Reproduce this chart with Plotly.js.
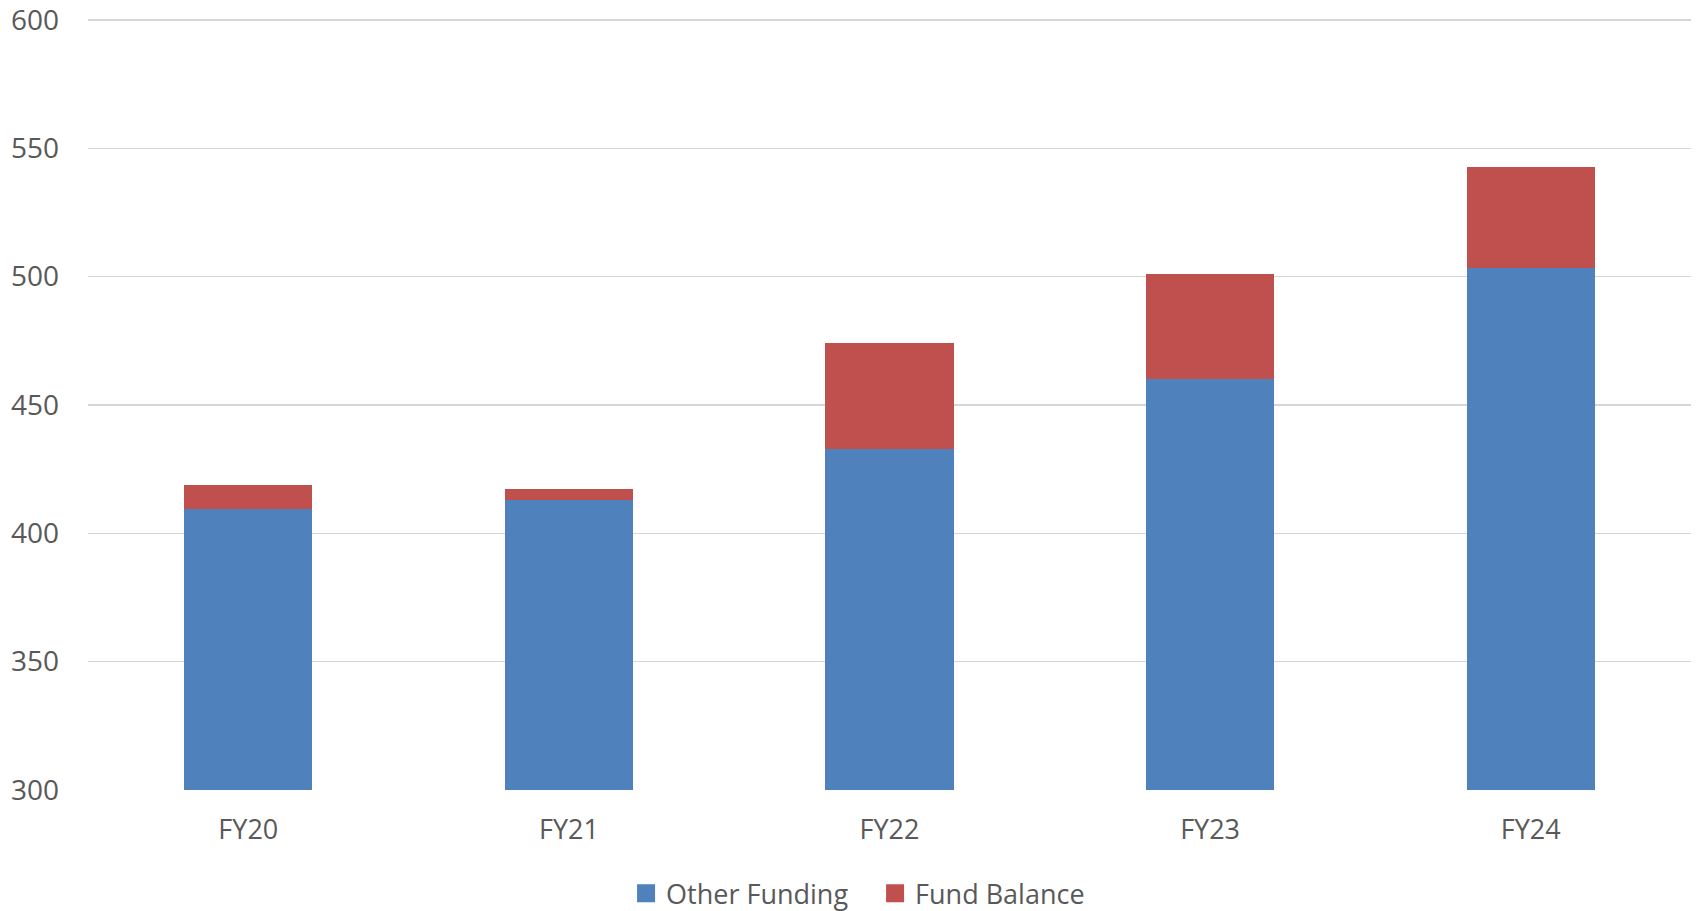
<!DOCTYPE html>
<html>
<head>
<meta charset="utf-8">
<script src="https://cdn.plot.ly/plotly-3.0.1.min.js"></script>
<style>
html,body{margin:0;padding:0;background:#fff;}
#chart{width:1700px;height:911px;}
</style>
</head>
<body>
<div id="chart"></div>
<script>
const categories = ["FY20", "FY21", "FY22", "FY23", "FY24"];
const otherFunding = [409.6, 413.1, 432.8, 460.0, 503.5];
const fundBalance = [9.2, 4.0, 41.5, 41.2, 39.3];
const yTicks = [300, 350, 400, 450, 500, 550, 600];

const textColor = "#595959";
const fontFamily = "'Open Sans', 'Noto Sans', sans-serif";

const traces = [
  {
    type: "bar",
    name: "Other Funding",
    x: categories,
    y: otherFunding,
    marker: {color: "#4F81BD", line: {width: 0}},
    hoverinfo: "x+y+name"
  },
  {
    type: "bar",
    name: "Fund Balance",
    x: categories,
    y: fundBalance,
    marker: {color: "#C0504D", line: {width: 0}},
    hoverinfo: "x+y+name"
  }
];

const layout = {
  width: 1700,
  height: 911,
  barmode: "stack",
  bargap: 0.6,
  paper_bgcolor: "#ffffff",
  plot_bgcolor: "#ffffff",
  margin: {l: 88, r: 9, t: 19, b: 121, pad: 0},
  font: {family: fontFamily, color: textColor},
  xaxis: {
    type: "category",
    showgrid: false,
    showline: false,
    zeroline: false,
    ticks: "",
    ticklabelstandoff: 21,
    tickfont: {size: 27, color: textColor, family: fontFamily}
  },
  yaxis: {
    range: [300, 600.4],
    tickvals: yTicks,
    ticktext: yTicks.map(String),
    showgrid: true,
    gridcolor: "#d6d6d6",
    gridwidth: 1.5,
    zeroline: false,
    showline: false,
    ticks: "",
    ticklabelstandoff: 28,
    ticklabeloverflow: "allow",
    tickfont: {size: 28, color: textColor, family: fontFamily}
  },
  showlegend: true,
  legend: {
    orientation: "h",
    x: 0.491,
    xanchor: "center",
    yref: "container",
    y: 0.019,
    yanchor: "middle",
    entrywidth: 204,
    entrywidthmode: "pixels",
    font: {size: 27, color: textColor, family: fontFamily},
    bgcolor: "rgba(0,0,0,0)",
    traceorder: "normal",
    itemclick: false,
    itemdoubleclick: false
  }
};

Plotly.newPlot("chart", traces, layout, {displayModeBar: false, staticPlot: true}).then(function(gd){
  document.querySelectorAll(".legendpoints path").forEach(function(p){
    p.setAttribute("transform", (p.getAttribute("transform") || "") + " scale(1.5)");
  });
});
</script>
</body>
</html>
